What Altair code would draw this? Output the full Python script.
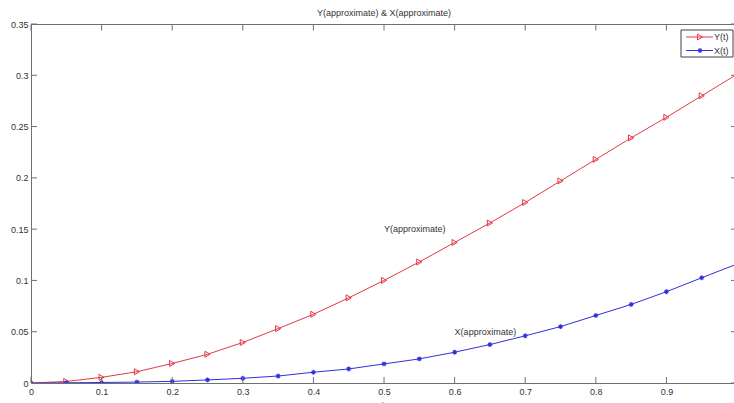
import altair as alt
import pandas as pd

# ---- data ----
t = [0.0, 0.05, 0.1, 0.15, 0.2, 0.25, 0.3, 0.35, 0.4, 0.45, 0.5,
     0.55, 0.6, 0.65, 0.7, 0.75, 0.8, 0.85, 0.9, 0.95, 1.0]
y_approx = [0.0, 0.0015, 0.0055, 0.011, 0.019, 0.028, 0.0395, 0.053, 0.067, 0.083, 0.100,
            0.118, 0.137, 0.156, 0.176, 0.197, 0.218, 0.239, 0.259, 0.280, 0.301]
x_approx = [0.0, 0.0002, 0.0005, 0.0009, 0.0016, 0.003, 0.0046, 0.0068, 0.0105, 0.0137, 0.0186,
            0.0235, 0.030, 0.0375, 0.046, 0.055, 0.0658, 0.0766, 0.089, 0.1026, 0.116]

x_ticks = [0.0, 0.1, 0.2, 0.3, 0.4, 0.5, 0.6, 0.7, 0.8, 0.9]
y_ticks = [0.0, 0.05, 0.1, 0.15, 0.2, 0.25, 0.3, 0.35]

title_text = "Y(approximate) & X(approximate)"
x_title = "t"
legend_labels = ["Y(t)", "X(t)"]
annot_text = ["Y(approximate)", "X(approximate)"]
annot_t = [0.5, 0.6]
annot_v = [0.15, 0.05]

RED = "#e23a44"
BLUE = "#3030e0"
AXC = "#707070"
TXT = "#333333"
FONT = "Liberation Sans"
ASTERISK = "M-1,0L1,0M0,-1L0,1M-0.7,-0.7L0.7,0.7M-0.7,0.7L0.7,-0.7"

W, H = 703, 359
XDOM = [0, 0.9957]
YDOM = [0, 0.35]

df = pd.DataFrame({"t": t, "Y": y_approx, "X": x_approx})
ann = pd.DataFrame({"t": annot_t, "v": annot_v, "txt": annot_text})
xt = pd.DataFrame({"v": x_ticks})
yt = pd.DataFrame({"v": y_ticks})
one = pd.DataFrame({"k": [0]})

xs = alt.Scale(domain=XDOM, nice=False, zero=False)
ys = alt.Scale(domain=YDOM, nice=False, zero=False)

xaxis = alt.Axis(values=x_ticks, ticks=False, grid=False, domainColor=AXC,
                 labelColor=TXT, labelFontSize=9, labelFont=FONT, labelPadding=4,
                 title=x_title, titleFontSize=9, titleFont=FONT, titleFontWeight="normal",
                 titleColor=TXT, titlePadding=4, format="~g", labelFlush=False)
yaxis = alt.Axis(values=y_ticks, ticks=False, grid=False, domainColor=AXC,
                 labelColor=TXT, labelFontSize=9, labelFont=FONT, labelPadding=3,
                 title=None, format="~g", labelFlush=False)


def X(field):
    return alt.X(field, type="quantitative", scale=xs, axis=xaxis)


def Y(field):
    return alt.Y(field, type="quantitative", scale=ys, axis=yaxis)


base = alt.Chart(df)

line_y = base.mark_line(color=RED, strokeWidth=1, clip=True).encode(x=X("t"), y=Y("Y"))
pts_y = base.mark_point(shape="triangle-right", filled=False, size=36, color=RED,
                        strokeWidth=1, clip=True, opacity=1).encode(x=X("t"), y=Y("Y"))
line_x = base.mark_line(color=BLUE, strokeWidth=1, clip=True).encode(x=X("t"), y=Y("X"))
pts_x = base.mark_point(shape=ASTERISK, filled=False, size=24, color=BLUE,
                        strokeWidth=1.1, clip=True, opacity=1).encode(x=X("t"), y=Y("X"))

annots = alt.Chart(ann).mark_text(align="left", baseline="middle", fontSize=9,
                                  font=FONT, color=TXT).encode(
    x=X("t"), y=Y("v"), text="txt:N")

# inward ticks (MATLAB style)
tick_left = alt.Chart(yt).mark_rule(color=AXC, strokeWidth=1).encode(
    y=Y("v"), x=alt.value(0), x2=alt.value(6))
tick_right = alt.Chart(yt).mark_rule(color=AXC, strokeWidth=1).encode(
    y=Y("v"), x=alt.value(W - 3), x2=alt.value(W + 3))
tick_bottom = alt.Chart(xt).mark_rule(color=AXC, strokeWidth=1).encode(
    x=X("v"), y=alt.value(H), y2=alt.value(H - 6))
tick_top = alt.Chart(xt).mark_rule(color=AXC, strokeWidth=1).encode(
    x=X("v"), y=alt.value(0.5), y2=alt.value(6.5))
top_frame = alt.Chart(one).mark_rule(color=AXC, strokeWidth=1).encode(
    x=alt.value(0), x2=alt.value(W + 3), y=alt.value(0.5))

title = alt.Chart(one).mark_text(fontSize=9, font=FONT, color=TXT, align="center",
                                 baseline="middle").encode(
    x=alt.value(W / 2 + 1.5), y=alt.value(-11), text=alt.value(title_text))

# legend box drawn manually
leg_box = alt.Chart(one).mark_rect(fill="white", stroke="#404040", strokeWidth=1).encode(
    x=alt.value(650), x2=alt.value(702), y=alt.value(6), y2=alt.value(33))
leg_line_y = alt.Chart(one).mark_rule(color=RED, strokeWidth=1).encode(
    x=alt.value(655), x2=alt.value(682), y=alt.value(13))
leg_pt_y = alt.Chart(one).mark_point(shape="triangle-right", filled=False, size=36,
                                     color=RED, strokeWidth=1, opacity=1).encode(
    x=alt.value(669), y=alt.value(13))
leg_txt_y = alt.Chart(one).mark_text(align="left", baseline="middle", fontSize=9,
                                     font=FONT, color=TXT).encode(
    x=alt.value(683), y=alt.value(13), text=alt.value(legend_labels[0]))
leg_line_x = alt.Chart(one).mark_rule(color=BLUE, strokeWidth=1).encode(
    x=alt.value(655), x2=alt.value(682), y=alt.value(26.5))
leg_pt_x = alt.Chart(one).mark_point(shape=ASTERISK, filled=False, size=24,
                                     color=BLUE, strokeWidth=1.1, opacity=1).encode(
    x=alt.value(669), y=alt.value(26.5))
leg_txt_x = alt.Chart(one).mark_text(align="left", baseline="middle", fontSize=9,
                                     font=FONT, color=TXT).encode(
    x=alt.value(683), y=alt.value(26.5), text=alt.value(legend_labels[1]))

chart = alt.layer(
    line_y, line_x, pts_y, pts_x, annots,
    tick_left, tick_right, tick_bottom, tick_top, top_frame, title,
    leg_box, leg_line_y, leg_pt_y, leg_txt_y, leg_line_x, leg_pt_x, leg_txt_x,
).properties(
    width=W, height=H,
    autosize=alt.AutoSizeParams(type="none"),
    padding={"left": 31, "top": 24, "right": 0, "bottom": 20},
    background="white",
).configure_view(stroke=None).configure(font=FONT)

chart.save("out.html", embed_options={"renderer": "svg", "actions": False})
